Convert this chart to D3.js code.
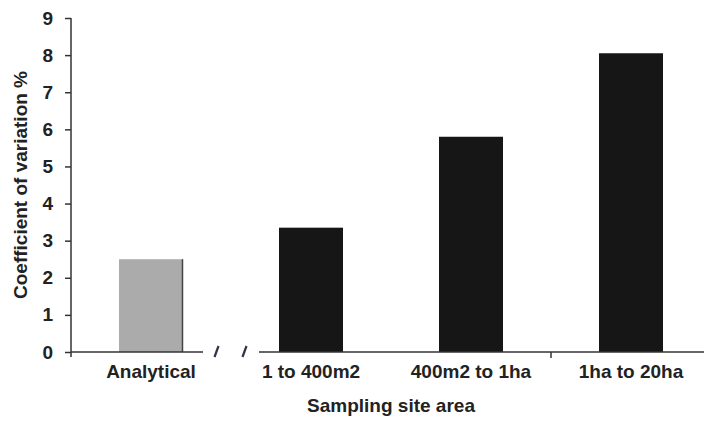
<!DOCTYPE html>
<html>
<head>
<meta charset="utf-8">
<script src="https://cdn.jsdelivr.net/npm/d3@7"></script>
<style>
  html, body { margin: 0; padding: 0; background: #fff; }
  svg { display: block; }
  text { font-family: "Liberation Sans", Arial, sans-serif; font-weight: bold; fill: #222; }
</style>
</head>
<body>
<svg id="chart" width="704" height="422"></svg>
<script>
const categories = ["Analytical", "1 to 400m2", "400m2 to 1ha", "1ha to 20ha"];
const values = [2.5, 3.35, 5.8, 8.05];
const yTicks = [0, 1, 2, 3, 4, 5, 6, 7, 8, 9];
const yTitle = "Coefficient of variation %";
const xTitle = "Sampling site area";

(function () {
const svg = d3.select("#chart");
const pL = 71, pR = 711, pT = 18, pB = 352;

const x = d3.scaleBand().domain(categories).range([pL, pR])
  .paddingInner(0.6).paddingOuter(0.3);
const y = d3.scaleLinear().domain([0, 9]).range([pB, pT]);

// bars
svg.append("g").selectAll("rect").data(categories).join("rect")
  .attr("x", d => x(d))
  .attr("y", (d, i) => y(values[i]))
  .attr("width", x.bandwidth())
  .attr("height", (d, i) => y(0) - y(values[i]))
  .attr("fill", (d, i) => i === 0 ? "#ababab" : "#161616");

// dark right edge of the gray bar
svg.append("line")
  .attr("x1", x(categories[0]) + x.bandwidth() - 0.5)
  .attr("x2", x(categories[0]) + x.bandwidth() - 0.5)
  .attr("y1", y(values[0])).attr("y2", y(0))
  .attr("stroke", "#444").attr("stroke-width", 1.5);

// y axis
const yAxis = d3.axisLeft(y).tickValues(yTicks).tickSize(6).tickPadding(12).tickFormat(d3.format("d"));
const gy = svg.append("g").attr("transform", `translate(${pL},0)`).call(yAxis);
gy.select(".domain").remove();
gy.selectAll(".tick line").attr("stroke", "#333").attr("stroke-width", 1.5);
gy.selectAll(".tick text").style("font-size", "19px").attr("fill", "#222").attr("font-family", null);
gy.append("line").attr("x1", 0).attr("x2", 0).attr("y1", pT).attr("y2", pB + 5)
  .attr("stroke", "#333").attr("stroke-width", 1.5);

// x axis labels
const xAxis = d3.axisBottom(x).tickSize(0).tickPadding(13);
const gx = svg.append("g").attr("transform", `translate(0,${pB})`).call(xAxis);
gx.select(".domain").remove();
gx.selectAll(".tick text").style("font-size", "19px").attr("fill", "#222").attr("font-family", null);

// x baseline with break between first and second category
const breakC = (x(categories[0]) + x.bandwidth() + x(categories[1])) / 2;
const gapHalf = 28;
svg.append("line").attr("x1", pL).attr("x2", breakC - gapHalf)
  .attr("y1", pB).attr("y2", pB).attr("stroke", "#333").attr("stroke-width", 1.5);
svg.append("line").attr("x1", breakC + gapHalf).attr("x2", 704)
  .attr("y1", pB).attr("y2", pB).attr("stroke", "#333").attr("stroke-width", 1.5);
[-14, 14].forEach(o => {
  svg.append("line")
    .attr("x1", breakC + o - 2.5).attr("y1", pB + 5)
    .attr("x2", breakC + o + 1.5).attr("y2", pB - 6)
    .attr("stroke", "#334").attr("stroke-width", 2.2);
});
// category tick between 3rd and 4th
const tickX = (x(categories[2]) + x.bandwidth() + x(categories[3])) / 2;
svg.append("line").attr("x1", tickX).attr("x2", tickX)
  .attr("y1", pB).attr("y2", pB + 6).attr("stroke", "#333").attr("stroke-width", 1.5);

// titles
svg.append("text")
  .attr("transform", `translate(27,${(pT + pB) / 2}) rotate(-90)`)
  .attr("text-anchor", "middle")
  .style("font-size", "19px")
  .text(yTitle);
svg.append("text")
  .attr("x", 391).attr("y", 412)
  .attr("text-anchor", "middle")
  .style("font-size", "19px")
  .text(xTitle);
})();
</script>
</body>
</html>
